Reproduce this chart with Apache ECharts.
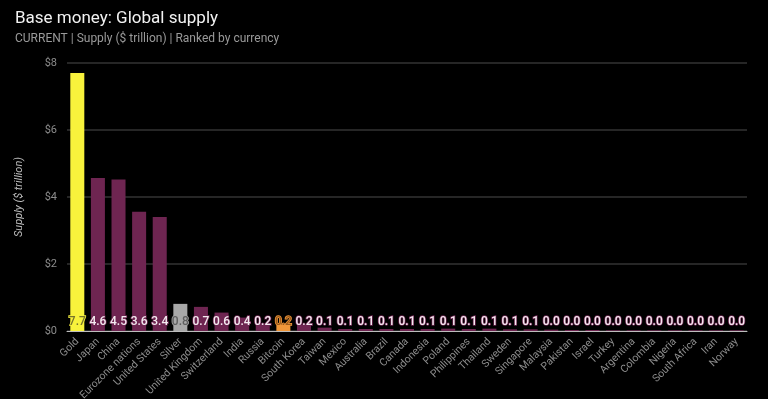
<!DOCTYPE html>
<html>
<head>
<meta charset="utf-8">
<script src="https://cdn.jsdelivr.net/npm/echarts@6/dist/echarts.min.js"></script>
<style>
  html, body { margin: 0; padding: 0; background: #000; }
  #chart { width: 768px; height: 399px; }
</style>
</head>
<body>
<div id="chart"></div>
<script>
// 数据
const currencies = ['Gold', 'Japan', 'China', 'Eurozone nations', 'United States', 'Silver',
  'United Kingdom', 'Switzerland', 'India', 'Russia', 'Bitcoin', 'South Korea', 'Taiwan',
  'Mexico', 'Australia', 'Brazil', 'Canada', 'Indonesia', 'Poland', 'Philippines', 'Thailand',
  'Sweden', 'Singapore', 'Malaysia', 'Pakistan', 'Israel', 'Turkey', 'Argentina', 'Colombia',
  'Nigeria', 'South Africa', 'Iran', 'Norway'];
const supply = [7.7, 4.57, 4.52, 3.56, 3.4, 0.81, 0.72, 0.55, 0.4, 0.22, 0.2, 0.2, 0.1,
  0.06, 0.06, 0.06, 0.06, 0.06, 0.07, 0.06, 0.07, 0.05, 0.05, 0.04, 0.03, 0.03, 0.02,
  0.02, 0.02, 0.02, 0.02, 0.02, 0.02];
const yTicks = [0, 2, 4, 6, 8];

// 特殊颜色
const specialColors = {
  Gold: { bar: '#f8f23c', label: '#77742c' },
  Silver: { bar: '#a8a8a8', label: '#5e5e5e' },
  Bitcoin: { bar: '#f0973a', label: '#9a5a1c' }
};

const chart = echarts.init(document.getElementById('chart'));

const option = {
  backgroundColor: '#000',
  title: {
    text: 'Base money: Global supply',
    subtext: 'CURRENT | Supply ($ trillion) | Ranked by currency',
    left: 10,
    top: 5,
    itemGap: 6,
    textStyle: { color: '#f2f2f2', fontSize: 17, fontWeight: 'normal', fontFamily: 'Roboto' },
    subtextStyle: { color: '#9a9a9a', fontSize: 12, fontFamily: 'Roboto' }
  },
  grid: { left: 67, right: 21, top: 63, bottom: 68, outerBoundsMode: 'none' },
  xAxis: {
    type: 'category',
    data: currencies,
    axisLine: { lineStyle: { color: '#bdbdbd', width: 1 } },
    axisTick: { show: false },
    axisLabel: {
      rotate: 45,
      interval: 0,
      color: '#8c8c8c',
      fontSize: 10.5,
      fontFamily: 'Roboto',
      margin: 9
    }
  },
  yAxis: {
    type: 'value',
    min: yTicks[0],
    max: yTicks[yTicks.length - 1],
    interval: 2,
    name: 'Supply ($ trillion)',
    nameLocation: 'middle',
    nameGap: 42,
    nameTextStyle: { color: '#bdbdbd', fontSize: 11, fontStyle: 'italic', fontFamily: 'Roboto' },
    axisLabel: { color: '#8c8c8c', fontSize: 11, fontFamily: 'Roboto', formatter: v => '$' + v, margin: 10 },
    splitLine: { lineStyle: { color: '#333', width: 1.5 } }
  },
  series: [
    {
      type: 'bar',
      barCategoryGap: '32%',
      data: supply.map((v, i) => {
        const sp = specialColors[currencies[i]];
        return {
          value: v,
          itemStyle: { color: sp ? sp.bar : '#6e2551' },
          label: sp ? { color: sp.label, textBorderColor: sp.bar } : {}
        };
      }),
      label: {
        show: true,
        position: 'insideBottom',
        distance: 3,
        color: '#f4eaf0',
        fontSize: 12,
        fontWeight: 500,
        fontFamily: 'Roboto',
        textBorderColor: '#6e2551',
        textBorderWidth: 1.5,
        formatter: p => p.value.toFixed(1)
      }
    }
  ]
};

chart.setOption(option);
</script>
</body>
</html>
